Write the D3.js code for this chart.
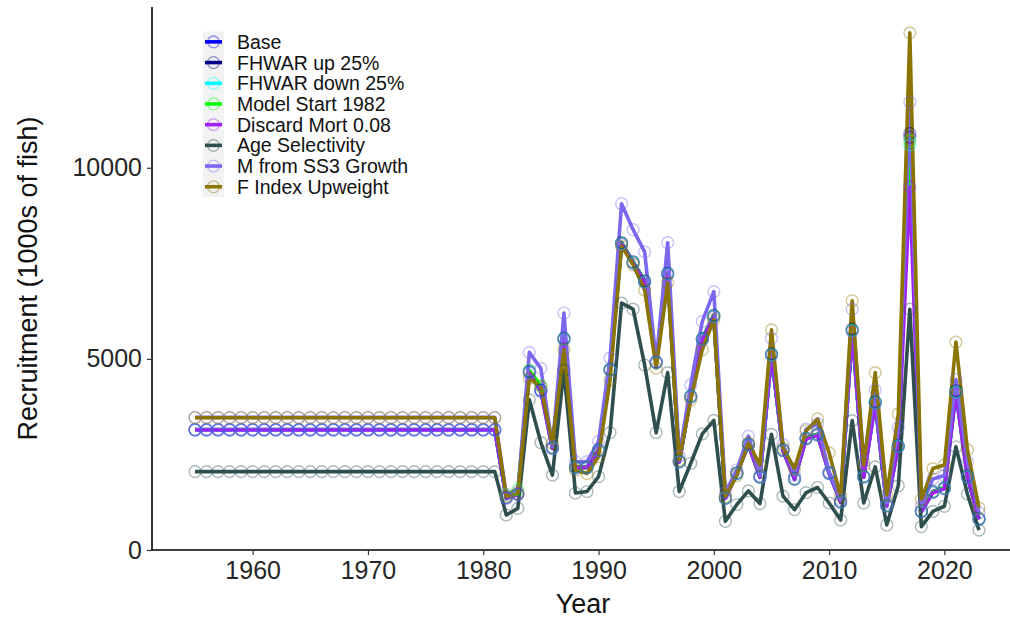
<!DOCTYPE html>
<html>
<head>
<meta charset="utf-8">
<script src="https://cdn.jsdelivr.net/npm/d3@7"></script>
<style>
  html, body { margin: 0; padding: 0; background: #ffffff; }
  svg { display: block; font-family: "Liberation Sans", Arial, sans-serif; }
</style>
</head>
<body>
<svg id="chart" width="1010" height="624"></svg>
<script>
// Recruitment estimates by sensitivity run, 1955-2023 (1000s of fish)
const years = [
  1955,1956,1957,1958,1959,1960,1961,1962,1963,1964,1965,1966,1967,1968,1969,
  1970,1971,1972,1973,1974,1975,1976,1977,1978,1979,1980,1981,
  1982,1983,1984,1985,1986,1987,1988,1989,1990,1991,1992,1993,1994,1995,1996,
  1997,1998,1999,2000,2001,2002,2003,2004,2005,2006,2007,2008,2009,2010,2011,
  2012,2013,2014,2015,2016,2017,2018,2019,2020,2021,2022,2023
];

const seriesNames = [
  "Base", "FHWAR up 25%", "FHWAR down 25%", "Model Start 1982",
  "Discard Mort 0.08", "Age Selectivity", "M from SS3 Growth", "F Index Upweight"
];

const seriesColors = [
  "#0000FF", "#00008B", "#00FFFF", "#00FF00",
  "#A020F0", "#2F4F4F", "#7B68EE", "#8B7500"
];

const base = [
  3145,3145,3145,3145,3145,3145,3145,3145,3145,3145,3145,3145,3145,3145,3145,
  3145,3145,3145,3145,3145,3145,3145,3145,3145,3145,3145,3145,
  1370,1460,4660,4170,2670,5530,2160,2160,2610,4720,8030,7530,7030,4910,7230,
  2310,4020,5520,6130,1360,2010,2760,1910,5120,2610,1860,2920,3020,2010,1260,
  5760,1920,3860,1160,2720,10800,1010,1520,1620,4150,1920,810
];

const fhwarUp = [
  3150,3150,3150,3150,3150,3150,3150,3150,3150,3150,3150,3150,3150,3150,3150,
  3150,3150,3150,3150,3150,3150,3150,3150,3150,3150,3150,3150,
  1375,1465,4680,4180,2680,5540,2170,2165,2615,4730,8040,7540,7040,4915,7240,
  2320,4030,5530,6140,1365,2020,2770,1920,5130,2620,1870,2930,3030,2020,1265,
  5780,1930,3880,1170,2730,10900,1020,1530,1630,4170,1930,820
];

const fhwarDown = [
  3135,3135,3135,3135,3135,3135,3135,3135,3135,3135,3135,3135,3135,3135,3135,
  3135,3135,3135,3135,3135,3135,3135,3135,3135,3135,3135,3135,
  1360,1455,4640,4160,2660,5510,2150,2150,2600,4700,8010,7510,7010,4900,7210,
  2300,4010,5510,6110,1355,2000,2750,1900,5100,2600,1850,2910,3010,2000,1255,
  5740,1910,3840,1155,2710,10600,1005,1510,1610,4120,1910,805
];

// No estimates before the 1982 start year in this run
const modelStart1982 = [
  null,null,null,null,null,null,null,null,null,null,null,null,null,null,null,
  null,null,null,null,null,null,null,null,null,null,null,null,
  1450,1580,4700,4300,2670,5520,2160,2160,2610,4720,8020,7520,7020,4900,7220,
  2310,4020,5520,6120,1360,2010,2760,1910,5110,2610,1860,2920,3020,2010,1260,
  5750,1920,3860,1160,2720,10700,1010,1520,1620,4140,1920,810
];

const discardMort = [
  3140,3140,3140,3140,3140,3140,3140,3140,3140,3140,3140,3140,3140,3140,3140,
  3140,3140,3140,3140,3140,3140,3140,3140,3140,3140,3140,3140,
  1350,1450,4630,4140,2650,5500,2150,2150,2600,4700,8000,7500,7000,4900,7200,
  2300,4000,5500,6100,1350,2000,2750,1900,5090,2600,1850,2900,3000,2000,1250,
  5720,1900,3830,1150,2700,9500,1000,1500,1600,4100,1900,800
];

const ageSelectivity = [
  2050,2050,2050,2050,2050,2050,2050,2050,2050,2050,2050,2050,2050,2050,2050,
  2050,2050,2050,2050,2050,2050,2050,2050,2050,2050,2050,2050,
  916,1090,3930,2810,1960,4700,1490,1530,1920,3070,6460,6300,4840,3070,4640,
  1530,2270,3040,3390,750,1190,1545,1215,3025,1410,1055,1500,1635,1230,785,
  3385,1230,2175,655,1680,6300,610,1010,1145,2700,1460,520
];

const mSS3Growth = [
  3470,3470,3470,3470,3470,3470,3470,3470,3470,3470,3470,3470,3470,3470,3470,
  3470,3470,3470,3470,3470,3470,3470,3470,3470,3470,3470,3470,
  1450,1520,5170,4750,2700,6200,2310,2310,2840,5020,9060,8380,7800,4950,8040,
  2450,4320,5980,6760,1500,2100,2980,1950,5540,2760,1950,3160,3300,2040,1320,
  6300,2310,4190,1230,3210,11720,1145,1860,1950,4460,2310,970
];

const fIndexUpweight = [
  3460,3460,3460,3460,3460,3460,3460,3460,3460,3460,3460,3460,3460,3460,3460,
  3460,3460,3460,3460,3460,3460,3460,3460,3460,3460,3460,3460,
  1400,1480,4490,4280,2790,5240,2090,2000,2440,4450,7950,7460,6800,4760,6990,
  2360,3930,5240,6030,1400,1950,2800,2230,5760,2670,2130,3115,3430,2540,1410,
  6520,2225,4640,1440,3560,13530,1320,2130,2225,5440,2620,1100
];

const seriesValues = [
  base, fhwarUp, fhwarDown, modelStart1982,
  discardMort, ageSelectivity, mSS3Growth, fIndexUpweight
];

const xTicks = [1960, 1970, 1980, 1990, 2000, 2010, 2020];
const yTicks = [0, 5000, 10000];

const xLabel = "Year";
const yLabel = "Recruitment (1000s of fish)";

// ---- layout ----
const svg = d3.select("#chart");
const panel = { left: 152, right: 1022, top: 7, bottom: 550 };

const yMax = d3.max(seriesValues.flat()) * 1.05;

const x = d3.scaleLinear()
  .domain([1951.27, 2026.73])
  .range([panel.left, panel.right]);

const y = d3.scaleLinear()
  .domain([0, yMax])
  .range([panel.bottom, panel.top]);

const series = seriesNames.map((name, i) => ({
  name,
  color: seriesColors[i],
  points: years.map((yr, j) => ({ year: yr, value: seriesValues[i][j] }))
    .filter(p => p.value !== null)
}));

const line = d3.line()
  .x(d => x(d.year))
  .y(d => y(d.value));

// lines (all series), then points on top
const gLines = svg.append("g");
series.forEach(s => {
  gLines.append("path")
    .datum(s.points)
    .attr("d", line)
    .attr("fill", "none")
    .attr("stroke", s.color)
    .attr("stroke-width", 3.6)
    .attr("stroke-linejoin", "round")
    .attr("stroke-linecap", "butt");
});

const pointOpacity = 0.4;
const gPts = svg.append("g");
series.forEach(s => {
  gPts.selectAll(null)
    .data(s.points)
    .join("circle")
    .attr("cx", d => x(d.year))
    .attr("cy", d => y(d.value))
    .attr("r", 5.9)
    .attr("fill", "none")
    .attr("stroke", s.color)
    .attr("stroke-opacity", pointOpacity)
    .attr("stroke-width", 1.4);
});

// ---- axes ----
const xAxis = d3.axisBottom(x)
  .tickValues(xTicks)
  .tickFormat(d3.format("d"))
  .tickSizeInner(5)
  .tickSizeOuter(0)
  .tickPadding(6);

const yAxis = d3.axisLeft(y)
  .tickValues(yTicks)
  .tickFormat(d3.format("d"))
  .tickSizeInner(5)
  .tickSizeOuter(0)
  .tickPadding(5);

const gx = svg.append("g")
  .attr("transform", `translate(0,${panel.bottom})`)
  .call(xAxis);

const gy = svg.append("g")
  .attr("transform", `translate(${panel.left},0)`)
  .call(yAxis);

[gx, gy].forEach(g => {
  g.select(".domain").attr("stroke", "#000").attr("stroke-width", 1.6);
  g.selectAll(".tick line").attr("stroke", "#333").attr("stroke-width", 1.2);
  g.selectAll(".tick text")
    .attr("fill", "#262626")
    .style("font-size", "25px")
    .style("font-family", "'Liberation Sans', Arial, sans-serif");
});
gy.select(".domain").attr("d", `M0,${panel.bottom + 0.8}V${panel.top}`);
gx.select(".domain").attr("d", `M${panel.left - 0.8},0H${panel.right}`);

svg.append("text")
  .attr("x", (panel.left + 1014) / 2)
  .attr("y", 613)
  .attr("text-anchor", "middle")
  .attr("fill", "#111")
  .style("font-size", "27px")
  .text(xLabel);

svg.append("text")
  .attr("transform", `translate(37,${(panel.top + panel.bottom) / 2}) rotate(-90)`)
  .attr("text-anchor", "middle")
  .attr("fill", "#111")
  .style("font-size", "27px")
  .text(yLabel);

// ---- legend ----
const legend = svg.append("g").attr("transform", "translate(203,31.5)");
const rowH = 20.7;
const keyW = 21;

series.forEach((s, i) => {
  const row = legend.append("g").attr("transform", `translate(0,${i * rowH})`);
  row.append("rect")
    .attr("x", 0).attr("y", 0)
    .attr("width", keyW).attr("height", rowH)
    .attr("fill", "#f2f2f2");
  row.append("line")
    .attr("x1", 2).attr("x2", keyW - 2)
    .attr("y1", rowH / 2).attr("y2", rowH / 2)
    .attr("stroke", s.color)
    .attr("stroke-width", 3.6);
  row.append("circle")
    .attr("cx", keyW / 2).attr("cy", rowH / 2)
    .attr("r", 5.9)
    .attr("fill", "none")
    .attr("stroke", s.color)
    .attr("stroke-opacity", pointOpacity)
    .attr("stroke-width", 1.4);
  row.append("text")
    .attr("x", keyW + 13)
    .attr("y", rowH / 2)
    .attr("dy", "0.36em")
    .attr("fill", "#111")
    .style("font-size", "19.5px")
    .text(s.name);
});
</script>
</body>
</html>
